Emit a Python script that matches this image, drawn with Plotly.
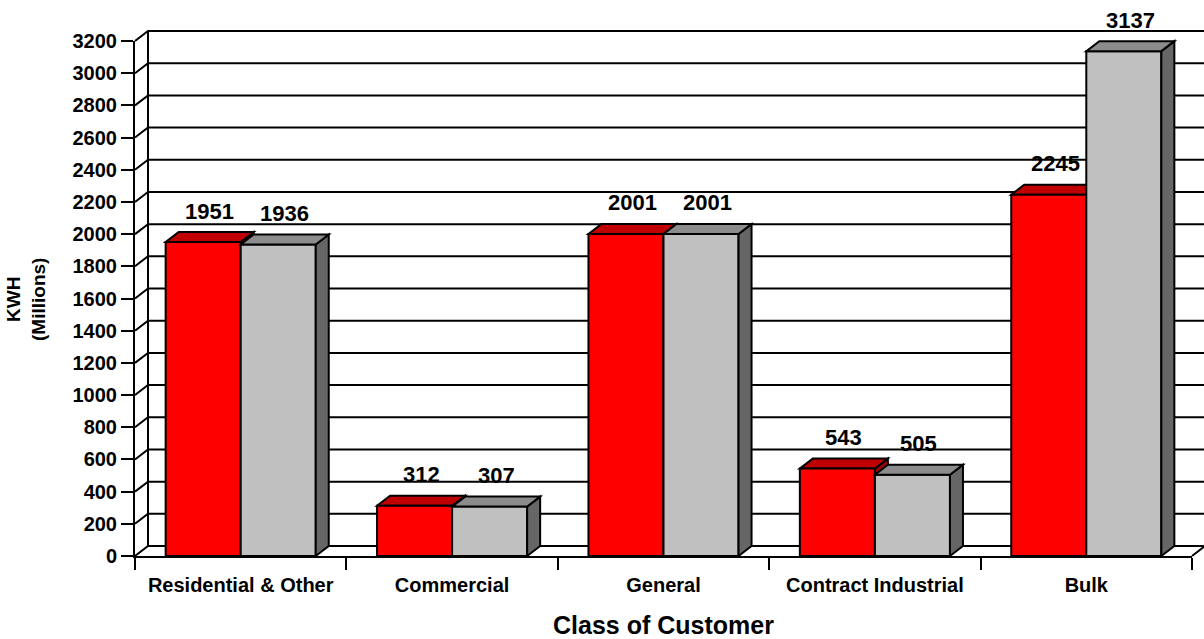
import plotly.graph_objects as go

# ---- data ----
categories = ["Residential & Other", "Commercial", "General", "Contract Industrial", "Bulk"]
series_red = [1951, 312, 2001, 543, 2245]
series_grey = [1936, 307, 2001, 505, 3137]
y_tick_values = list(range(0, 3201, 200))
y_title = "KWH<br>(Millions)"
x_title = "Class of Customer"

# ---- layout geometry ----
W, H = 1204, 639
ML, MR, MT, MB = 135, 12, 41, 83
PW = W - ML - MR
PH = H - MT - MB
YMAX = 3200
DX, DY = 13, 10          # 3D depth in pixels
BAR_W = 0.355            # bar width in category units

RED, RED_TOP, RED_SIDE = "#FF0000", "#C00000", "#A00000"
GREY, GREY_TOP, GREY_SIDE = "#C0C0C0", "#8C8C8C", "#666666"
FONT = "Liberation Sans, Arial, sans-serif"
LW = 2

n = len(categories)
dxp = DX / PW
dyp = DY / PH


def px(xc):
    return (xc + 0.5) / n


def py(v):
    return v / YMAX


def ypix_to_paper(ypix):
    return (MT + PH - ypix) / PH


def xpix_to_paper(xpix):
    return (xpix - ML) / PW


def poly(points):
    return "M " + " L ".join(f"{x:.6f},{y:.6f}" for x, y in points) + " Z"


shapes = []
line_style = dict(color="black", width=LW)

# back wall gridlines and left-wall connectors
x_left = px(-0.5)
x_right = px(n - 0.5) + dxp
for v in y_tick_values:
    shapes.append(dict(type="path", xref="paper", yref="paper", layer="below",
                       path=f"M {x_left:.6f},{py(v):.6f} L {x_left + dxp:.6f},{py(v) + dyp:.6f} L {x_right + 0.02:.6f},{py(v) + dyp:.6f}",
                       line=line_style))
# left wall back vertical
shapes.append(dict(type="line", xref="paper", yref="paper", layer="below",
                   x0=x_left + dxp, x1=x_left + dxp, y0=py(0) + dyp, y1=py(YMAX) + dyp,
                   line=line_style))
# floor right connector
shapes.append(dict(type="line", xref="paper", yref="paper", layer="below",
                   x0=px(n - 0.5), x1=px(n - 0.5) + dxp, y0=py(0), y1=py(0) + dyp,
                   line=line_style))

# red bar top and side faces (behind grey bars)
for i, v in enumerate(series_red):
    x0, x1 = px(i - BAR_W), px(i)
    t = py(v)
    shapes.append(dict(type="path", xref="paper", yref="paper", layer="below",
                       path=poly([(x1, py(0)), (x1 + dxp, py(0) + dyp), (x1 + dxp, t + dyp), (x1, t)]),
                       fillcolor=RED_SIDE, line=line_style))
    shapes.append(dict(type="path", xref="paper", yref="paper", layer="below",
                       path=poly([(x0, t), (x1, t), (x1 + dxp, t + dyp), (x0 + dxp, t + dyp)]),
                       fillcolor=RED_TOP, line=line_style))

# grey bar top and side faces (in front)
for i, v in enumerate(series_grey):
    x0, x1 = px(i), px(i + BAR_W)
    t = py(v)
    shapes.append(dict(type="path", xref="paper", yref="paper", layer="above",
                       path=poly([(x1, py(0)), (x1 + dxp, py(0) + dyp), (x1 + dxp, t + dyp), (x1, t)]),
                       fillcolor=GREY_SIDE, line=line_style))
    shapes.append(dict(type="path", xref="paper", yref="paper", layer="above",
                       path=poly([(x0, t), (x1, t), (x1 + dxp, t + dyp), (x0 + dxp, t + dyp)]),
                       fillcolor=GREY_TOP, line=line_style))

fig = go.Figure()
fig.add_trace(go.Bar(x=categories, y=series_red, width=BAR_W, offset=-BAR_W,
                     marker=dict(color=RED, line=dict(color="black", width=LW)),
                     hoverinfo="y", showlegend=False))
fig.add_trace(go.Bar(x=categories, y=series_grey, width=BAR_W, offset=0,
                     marker=dict(color=GREY, line=dict(color="black", width=LW)),
                     hoverinfo="y", showlegend=False))

annotations = []
for i, v in enumerate(series_red):
    annotations.append(dict(xref="paper", yref="paper",
                            x=px(i - BAR_W / 2) + dxp / 2, y=py(v), yshift=31,
                            text=str(v), showarrow=False, xanchor="center", yanchor="middle",
                            font=dict(family=FONT, size=22, color="black", weight="bold")))
for i, v in enumerate(series_grey):
    annotations.append(dict(xref="paper", yref="paper",
                            x=px(i + BAR_W / 2) + dxp / 2, y=py(v), yshift=31,
                            text=str(v), showarrow=False, xanchor="center", yanchor="middle",
                            font=dict(family=FONT, size=22, color="black", weight="bold")))

annotations.append(dict(xref="paper", yref="paper", x=xpix_to_paper(26), y=ypix_to_paper(300),
                        text=y_title, showarrow=False, textangle=-90,
                        xanchor="center", yanchor="middle",
                        font=dict(family=FONT, size=19, color="black", weight="bold")))
annotations.append(dict(xref="paper", yref="paper", x=0.5, y=ypix_to_paper(625),
                        text=x_title, showarrow=False, xanchor="center", yanchor="middle",
                        font=dict(family=FONT, size=25, color="black", weight="bold")))

fig.update_layout(
    width=W, height=H,
    margin=dict(l=ML, r=MR, t=MT, b=MB, autoexpand=False),
    paper_bgcolor="white", plot_bgcolor="rgba(0,0,0,0)",
    barmode="overlay",
    shapes=shapes,
    annotations=annotations,
    xaxis=dict(type="category", range=[-0.5, n - 0.5], tickson="boundaries",
               ticks="outside", ticklen=12, tickwidth=LW, tickcolor="black",
               ticklabelstandoff=10,
               showline=True, linecolor="black", linewidth=LW,
               showgrid=False, zeroline=False, fixedrange=True,
               tickfont=dict(family=FONT, size=20, color="black", weight="bold")),
    yaxis=dict(range=[0, YMAX], tickvals=y_tick_values,
               ticks="outside", ticklen=12, tickwidth=LW, tickcolor="black",
               showline=True, linecolor="black", linewidth=LW,
               showgrid=False, zeroline=False, fixedrange=True,
               tickfont=dict(family=FONT, size=20, color="black", weight="bold")),
)

fig.write_html("out.html", config={"displayModeBar": False},
               post_script="document.body.style.margin='0';document.body.style.overflow='hidden';")
